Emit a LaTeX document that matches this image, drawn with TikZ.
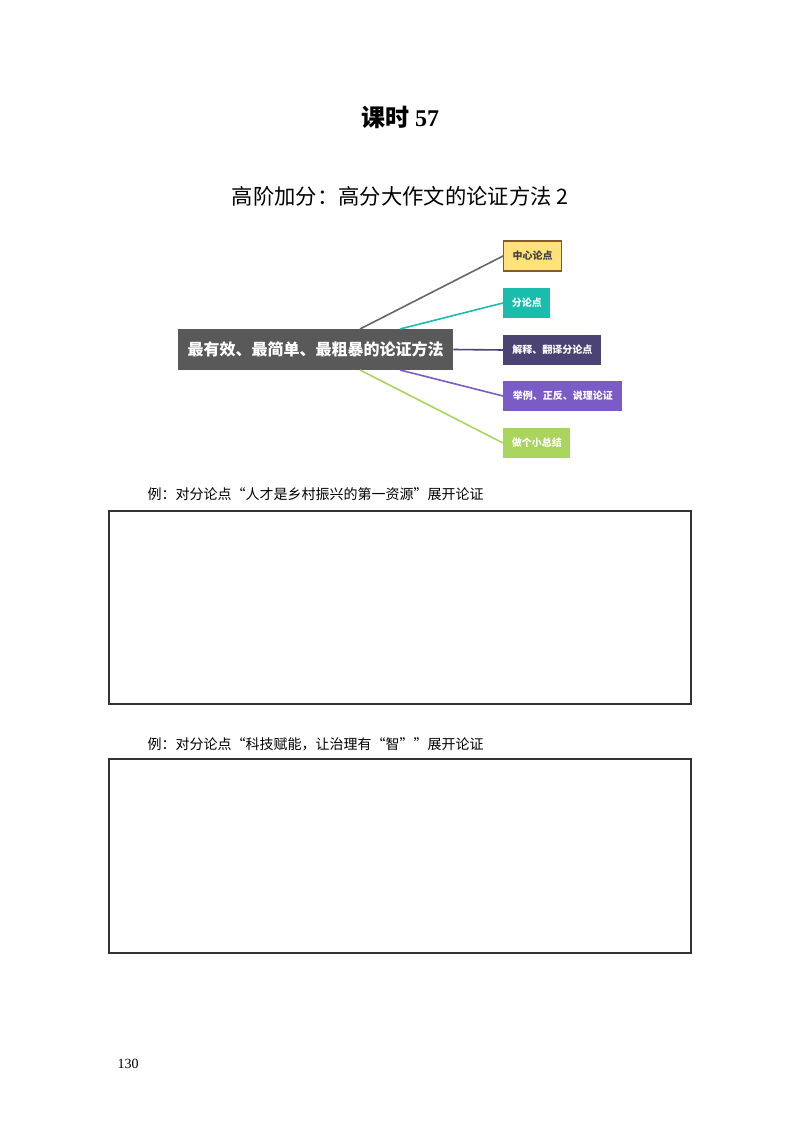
\documentclass[tikz,border=0pt]{standalone}
\usepackage{fontspec}
\setmainfont{Liberation Serif}
\newfontfamily\cjk{Noto Sans CJK SC}
\definecolor{gr}{HTML}{A9D55C}
\definecolor{tl}{HTML}{1ABCAC}
\definecolor{dp}{HTML}{4B4373}
\definecolor{pu}{HTML}{7B5BC6}
\definecolor{yl}{HTML}{FFE37A}
\begin{document}
\begin{tikzpicture}[x=0.75pt,y=-0.75pt,
  child/.style={draw=none,minimum height=22.5pt,inner sep=3pt,font=\cjk\bfseries\fontsize{7.5}{8}\selectfont,text=white,anchor=west},
  ans/.style={draw=black!80,line width=0.8pt},
  lbl/.style={anchor=west,font=\cjk\fontsize{10.5}{12}\selectfont}]
\useasboundingbox (0,0) rectangle (800,1130);
\node[font=\bfseries\fontsize{18}{20}\selectfont] (title) at (400,117) {{\cjk\bfseries 课时} 57};
\node[font=\cjk\fontsize{16}{18}\selectfont] (sub) at (400,196) {高阶加分：高分大作文的论证方法 2};
\node[fill=black!65,text=white,font=\cjk\bfseries\fontsize{12}{14}\selectfont,minimum width=206.25pt,minimum height=30.75pt,inner sep=0pt] (c) at (315.5,349.5) {最有效、最简单、最粗暴的论证方法};
\node[child,fill=yl,draw=brown!70!black,line width=1pt,text=black!75,minimum width=43.5pt] (a1) at (503,256) {中心论点};
\node[child,fill=tl,minimum width=35.25pt] (a2) at (503,303) {分论点};
\node[child,fill=dp,minimum width=73.5pt] (a3) at (503,350) {解释、翻译分论点};
\node[child,fill=pu,minimum width=89.25pt] (a4) at (503,396) {举例、正反、说理论证};
\node[child,fill=gr,minimum width=50.25pt] (a5) at (503,443) {做个小总结};
\draw[black!60,line width=1.2pt] (360,329) -- (a1.west);
\draw[tl,line width=1.2pt] (400,329) -- (a2.west);
\draw[dp,line width=1.2pt] (c.east) -- (a3.west);
\draw[pu,line width=1.2pt] (400,370) -- (a4.west);
\draw[gr,line width=1.2pt] (360,370) -- (a5.west);
\node[lbl] (l1) at (143,494) {例：对分论点“人才是乡村振兴的第一资源”展开论证};
\draw[ans] (109,511) rectangle (691,704);
\node[lbl] (l2) at (143,744) {例：对分论点“科技赋能，让治理有“智””展开论证};
\draw[ans] (109,759) rectangle (691,953);
\node[font=\fontsize{10.5}{12}\selectfont] (pg) at (128,1064) {130};
\end{tikzpicture}
\end{document}
